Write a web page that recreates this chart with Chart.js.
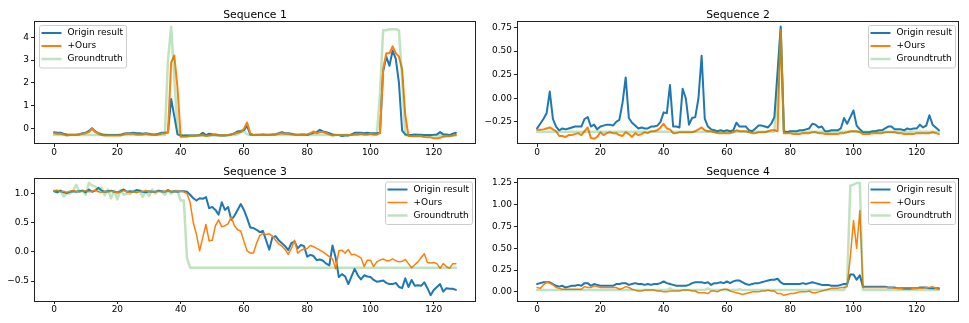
<!DOCTYPE html>
<html>
<head>
<meta charset="utf-8">
<script src="https://cdn.jsdelivr.net/npm/chart.js@4.4.1/dist/chart.umd.min.js"></script>
<style>
  html, body { margin: 0; padding: 0; background: #fff; }
  #figure { position: relative; width: 969px; height: 323px; }
  .panel { position: absolute; }
</style>
</head>
<body>
<div id="figure">
  <canvas id="seq1" class="panel" style="left:0;top:0" width="484" height="161"></canvas>
  <canvas id="seq2" class="panel" style="left:484px;top:0" width="485" height="161"></canvas>
  <canvas id="seq3" class="panel" style="left:0;top:161px" width="484" height="162"></canvas>
  <canvas id="seq4" class="panel" style="left:484px;top:161px" width="485" height="162"></canvas>
</div>
<script>
// sample index along each sequence
const steps = Array.from({ length: 128 }, (_, i) => i);
const xTicks = [0, 20, 40, 60, 80, 100, 120];
const seriesNames = ['Origin result', '+Ours', 'Groundtruth'];

// Sequence 1
const seq1Origin = [
  -0.16, -0.18, -0.18, -0.22, -0.25, -0.26, -0.27, -0.26, -0.24, -0.2, -0.18, -0.1, 0.02, -0.12, -0.2, -0.24,
  -0.27, -0.28, -0.28, -0.28, -0.28, -0.27, -0.22, -0.2, -0.2, -0.18, -0.2, -0.2, -0.22, -0.2, -0.22, -0.25,
  -0.25, -0.22, -0.18, -0.18, -0.15, 1.3, 0.55, -0.25, -0.3, -0.3, -0.3, -0.3, -0.3, -0.3, -0.28, -0.18,
  -0.28, -0.22, -0.24, -0.25, -0.28, -0.3, -0.3, -0.28, -0.25, -0.2, -0.12, -0.1, -0.06, 0.12, -0.25, -0.28,
  -0.27, -0.26, -0.25, -0.26, -0.27, -0.25, -0.24, -0.2, -0.15, -0.2, -0.2, -0.22, -0.25, -0.26, -0.25, -0.25,
  -0.28, -0.22, -0.18, -0.15, -0.05, -0.12, -0.15, -0.2, -0.25, -0.28, -0.28, -0.32, -0.3, -0.3, -0.25, -0.18,
  -0.18, -0.18, -0.2, -0.18, -0.2, -0.2, -0.2, -0.18, 2.5, 3.15, 2.75, 3.42, 3.05, 2.0, -0.08, -0.25,
  -0.28, -0.28, -0.25, -0.27, -0.27, -0.28, -0.28, -0.28, -0.27, -0.25, -0.15, -0.25, -0.25, -0.28, -0.22, -0.18
];
const seq1Ours = [
  -0.2, -0.22, -0.22, -0.25, -0.3, -0.28, -0.28, -0.28, -0.25, -0.22, -0.2, -0.15, 0.0, -0.15, -0.22, -0.28,
  -0.3, -0.3, -0.3, -0.3, -0.3, -0.3, -0.25, -0.22, -0.22, -0.22, -0.25, -0.25, -0.25, -0.22, -0.25, -0.25,
  -0.28, -0.25, -0.22, -0.2, -0.18, 2.9, 3.2, 1.8, -0.35, -0.35, -0.35, -0.32, -0.32, -0.3, -0.3, -0.28,
  -0.32, -0.3, -0.28, -0.28, -0.3, -0.3, -0.28, -0.28, -0.25, -0.22, -0.18, -0.15, 0.0, 0.27, -0.2, -0.28,
  -0.28, -0.28, -0.28, -0.28, -0.28, -0.27, -0.25, -0.22, -0.2, -0.22, -0.22, -0.25, -0.25, -0.28, -0.28, -0.28,
  -0.25, -0.2, -0.12, -0.2, -0.15, -0.15, -0.2, -0.25, -0.3, -0.28, -0.28, -0.28, -0.28, -0.28, -0.28, -0.25,
  -0.25, -0.22, -0.25, -0.25, -0.22, -0.25, -0.25, -0.2, 2.6, 3.3, 3.3, 3.6, 3.3, 3.15, 2.6, 0.6,
  -0.32, -0.33, -0.33, -0.32, -0.33, -0.36, -0.38, -0.38, -0.42, -0.42, -0.4, -0.35, -0.33, -0.33, -0.3, -0.27
];
const seq1Truth = [
  -0.28, -0.28, -0.28, -0.28, -0.28, -0.28, -0.28, -0.28, -0.28, -0.28, -0.28, -0.28, -0.28, -0.28, -0.28, -0.28,
  -0.28, -0.28, -0.28, -0.28, -0.28, -0.28, -0.28, -0.28, -0.28, -0.28, -0.28, -0.28, -0.28, -0.28, -0.28, -0.28,
  -0.28, -0.28, -0.28, -0.28, 3.0, 4.45, 2.2, 0.0, -0.3, -0.3, -0.3, -0.3, -0.3, -0.3, -0.3, -0.3,
  -0.3, -0.3, -0.3, -0.3, -0.3, -0.3, -0.3, -0.3, -0.28, -0.28, -0.25, -0.15, -0.1, -0.25, -0.28, -0.28,
  -0.28, -0.28, -0.28, -0.28, -0.28, -0.28, -0.28, -0.28, -0.28, -0.28, -0.28, -0.28, -0.28, -0.28, -0.28, -0.28,
  -0.28, -0.28, -0.28, -0.28, -0.28, -0.28, -0.28, -0.28, -0.28, -0.28, -0.28, -0.28, -0.28, -0.28, -0.28, -0.28,
  -0.28, -0.28, -0.28, -0.28, -0.28, -0.28, -0.28, 1.5, 4.3, 4.3, 4.35, 4.35, 4.35, 4.3, 2.2, -0.28,
  -0.3, -0.3, -0.3, -0.3, -0.3, -0.3, -0.3, -0.3, -0.3, -0.3, -0.3, -0.3, -0.3, -0.3, -0.3, -0.3
];
const seq1YTicks = [0, 1, 2, 3, 4];

// Sequence 2
const seq2Origin = [
  -0.32, -0.27, -0.22, -0.16, 0.07, -0.22, -0.3, -0.34, -0.32, -0.33, -0.32, -0.31, -0.3, -0.3, -0.3, -0.22,
  -0.2, -0.3, -0.28, -0.33, -0.3, -0.29, -0.28, -0.28, -0.29, -0.25, -0.23, -0.05, 0.22, -0.21, -0.26, -0.29,
  -0.32, -0.31, -0.32, -0.32, -0.3, -0.3, -0.29, -0.25, -0.15, -0.16, 0.14, -0.3, -0.3, -0.31, 0.1, 0.0,
  -0.28, -0.21, -0.2, 0.0, 0.45, -0.22, -0.3, -0.33, -0.34, -0.35, -0.34, -0.35, -0.34, -0.35, -0.34, -0.26,
  -0.3, -0.3, -0.3, -0.34, -0.35, -0.32, -0.29, -0.29, -0.3, -0.31, -0.27, -0.2, 0.28, 0.76, -0.35, -0.36,
  -0.35, -0.35, -0.35, -0.34, -0.34, -0.33, -0.32, -0.27, -0.28, -0.31, -0.3, -0.35, -0.35, -0.34, -0.34, -0.34,
  -0.32, -0.21, -0.27, -0.2, -0.13, -0.29, -0.33, -0.36, -0.36, -0.36, -0.35, -0.35, -0.34, -0.34, -0.32, -0.3,
  -0.3, -0.33, -0.33, -0.33, -0.34, -0.32, -0.33, -0.32, -0.32, -0.28, -0.31, -0.29, -0.18, -0.28, -0.31, -0.34
];
const seq2Ours = [
  -0.335, -0.335, -0.33, -0.32, -0.31, -0.33, -0.35, -0.4, -0.4, -0.41, -0.39, -0.39, -0.38, -0.37, -0.39, -0.35,
  -0.31, -0.42, -0.43, -0.41, -0.36, -0.39, -0.37, -0.36, -0.37, -0.37, -0.39, -0.4, -0.36, -0.38, -0.41, -0.37,
  -0.39, -0.38, -0.36, -0.37, -0.35, -0.35, -0.34, -0.31, -0.27, -0.32, -0.33, -0.37, -0.37, -0.36, -0.36, -0.36,
  -0.36, -0.36, -0.35, -0.33, -0.31, -0.34, -0.35, -0.35, -0.36, -0.37, -0.37, -0.37, -0.37, -0.37, -0.36, -0.34,
  -0.35, -0.35, -0.35, -0.36, -0.37, -0.37, -0.36, -0.36, -0.36, -0.35, -0.34, -0.34, -0.35, 0.72, -0.37, -0.37,
  -0.37, -0.38, -0.38, -0.38, -0.37, -0.37, -0.37, -0.36, -0.36, -0.37, -0.37, -0.38, -0.38, -0.38, -0.38, -0.38,
  -0.37, -0.37, -0.36, -0.35, -0.35, -0.35, -0.36, -0.38, -0.38, -0.38, -0.37, -0.37, -0.37, -0.37, -0.36, -0.36,
  -0.36, -0.36, -0.37, -0.37, -0.38, -0.38, -0.38, -0.38, -0.37, -0.37, -0.37, -0.37, -0.37, -0.36, -0.37, -0.38
];
const seq2Truth = [
  -0.355, -0.355, -0.355, -0.355, -0.355, -0.355, -0.355, -0.355, -0.355, -0.355, -0.355, -0.355, -0.355, -0.355, -0.355, -0.355,
  -0.355, -0.355, -0.355, -0.355, -0.355, -0.355, -0.355, -0.355, -0.355, -0.355, -0.355, -0.355, -0.355, -0.355, -0.355, -0.355,
  -0.355, -0.355, -0.355, -0.355, -0.355, -0.355, -0.355, -0.355, -0.355, -0.355, -0.355, -0.355, -0.355, -0.355, -0.355, -0.355,
  -0.355, -0.355, -0.355, -0.355, -0.355, -0.355, -0.355, -0.355, -0.355, -0.355, -0.355, -0.355, -0.355, -0.355, -0.355, -0.355,
  -0.355, -0.355, -0.355, -0.355, -0.355, -0.355, -0.355, -0.355, -0.355, -0.355, -0.355, -0.355, 0.1, 0.72, -0.355, -0.355,
  -0.355, -0.355, -0.355, -0.355, -0.355, -0.355, -0.355, -0.355, -0.355, -0.355, -0.355, -0.355, -0.355, -0.355, -0.355, -0.355,
  -0.355, -0.355, -0.355, -0.355, -0.355, -0.355, -0.355, -0.355, -0.355, -0.355, -0.355, -0.355, -0.355, -0.355, -0.355, -0.355,
  -0.355, -0.355, -0.355, -0.355, -0.355, -0.355, -0.355, -0.355, -0.355, -0.355, -0.355, -0.355, -0.355, -0.355, -0.355, -0.355
];
const seq2YTicks = [-0.25, 0, 0.25, 0.5, 0.75];

// Sequence 3
const seq3Origin = [
  1.04, 1.02, 1.05, 1.02, 1.01, 1.03, 1.04, 1.03, 1.04, 1.05, 1.02, 1.07, 1.03, 1.05, 1.1, 1.05,
  1.03, 1.04, 1.05, 1.03, 1.02, 1.04, 1.07, 1.03, 1.04, 1.03, 1.06, 1.05, 1.03, 1.02, 1.04, 1.03,
  1.03, 1.05, 1.04, 1.03, 1.06, 1.03, 1.04, 1.03, 1.04, 1.04, 1.03, 0.98, 0.92, 0.88, 0.92, 0.91,
  0.94, 0.75, 0.77, 0.72, 0.64, 0.85, 0.72, 0.77, 0.55, 0.62, 0.72, 0.82, 0.72, 0.58, 0.42, 0.41,
  0.38, 0.34, 0.36, 0.2, 0.04, 0.25, 0.27, 0.2, 0.15, 0.1, 0.03, 0.15, 0.18, 0.06, 0.12, 0.1,
  -0.08, -0.05, -0.07, -0.14, -0.13, -0.15, -0.2, -0.23, 0.11, -0.1, -0.43, -0.38, -0.42, -0.55, -0.42, -0.29,
  -0.4, -0.47, -0.4, -0.42, -0.43, -0.48, -0.51, -0.5, -0.49, -0.53, -0.55, -0.55, -0.53, -0.6, -0.62, -0.45,
  -0.6, -0.48, -0.58, -0.57, -0.58, -0.52, -0.62, -0.74, -0.65, -0.6, -0.55, -0.68, -0.62, -0.63, -0.63, -0.65
];
const seq3Ours = [
  1.04, 1.06, 1.03, 1.04, 1.02, 1.04, 1.05, 1.04, 1.03, 1.04, 1.05, 1.03, 1.04, 1.06, 1.03, 1.02,
  1.04, 1.03, 1.04, 1.03, 1.01, 1.03, 1.05, 1.03, 1.02, 1.03, 1.02, 1.03, 1.04, 1.05, 1.04, 1.03,
  1.03, 1.04, 1.03, 1.04, 1.05, 1.04, 1.03, 1.04, 1.04, 1.03, 1.0, 0.85, 0.5, 0.3, 0.02, 0.25,
  0.47, 0.19, 0.2, 0.45, 0.55, 0.43, 0.45, 0.48, 0.6, 0.45, 0.38, 0.36, 0.18, 0.02, -0.02, -0.02,
  0.15, 0.28, 0.32, 0.3, 0.31, 0.27, 0.2, 0.14, 0.1, 0.04, -0.04, 0.06, 0.2, -0.02, 0.03, 0.05,
  0.06, 0.11, 0.09, 0.06, 0.03, 0.0, -0.04, -0.08, -0.12, -0.29, 0.02, 0.03, -0.02, 0.04, -0.05, -0.04,
  -0.07, -0.1, -0.25, -0.14, -0.14, -0.25, -0.17, -0.14, -0.12, -0.15, -0.15, -0.12, -0.15, -0.17, -0.16, -0.13,
  -0.2, -0.27, -0.22, -0.17, -0.1, -0.03, -0.18, -0.19, -0.18, -0.2, -0.28, -0.2, -0.25, -0.28, -0.2, -0.2
];
const seq3Truth = [
  1.05, 1.03, 1.05, 0.95, 1.0, 1.0, 1.05, 1.15, 1.03, 1.05, 0.98, 1.18, 1.14, 1.12, 1.05, 1.1,
  0.97, 1.07, 0.92, 1.05, 0.9, 1.06, 0.98, 1.0, 0.99, 1.05, 1.02, 1.06, 0.94, 1.05, 0.96, 1.07,
  1.0, 1.05, 1.03, 0.98, 1.05, 1.0, 1.04, 1.05, 0.88, 0.88, -0.1, -0.27, -0.27, -0.27, -0.27, -0.27,
  -0.27, -0.27, -0.27, -0.27, -0.27, -0.27, -0.27, -0.27, -0.27, -0.27, -0.27, -0.27, -0.27, -0.27, -0.27, -0.27,
  -0.27, -0.27, -0.27, -0.27, -0.27, -0.27, -0.27, -0.27, -0.27, -0.27, -0.27, -0.27, -0.27, -0.27, -0.27, -0.27,
  -0.27, -0.27, -0.27, -0.27, -0.27, -0.27, -0.27, -0.27, -0.27, -0.27, -0.27, -0.27, -0.27, -0.27, -0.27, -0.27,
  -0.27, -0.27, -0.27, -0.27, -0.27, -0.27, -0.27, -0.27, -0.27, -0.27, -0.27, -0.27, -0.27, -0.27, -0.27, -0.27,
  -0.27, -0.27, -0.27, -0.27, -0.27, -0.27, -0.27, -0.27, -0.27, -0.27, -0.27, -0.27, -0.27, -0.27, -0.27, -0.27
];
const seq3YTicks = [-0.5, 0, 0.5, 1.0];

// Sequence 4
const seq4Origin = [
  0.09, 0.1, 0.11, 0.11, 0.11, 0.09, 0.07, 0.06, 0.07, 0.05, 0.06, 0.07, 0.07, 0.08, 0.07, 0.1,
  0.1, 0.07, 0.09, 0.08, 0.07, 0.07, 0.07, 0.07, 0.07, 0.09, 0.09, 0.1, 0.1, 0.08, 0.09, 0.1,
  0.09, 0.09, 0.08, 0.09, 0.08, 0.09, 0.09, 0.1, 0.12, 0.1, 0.09, 0.08, 0.07, 0.07, 0.07, 0.07,
  0.08, 0.1, 0.11, 0.11, 0.11, 0.1, 0.11, 0.08, 0.1, 0.1, 0.11, 0.1, 0.12, 0.1, 0.12, 0.13,
  0.13, 0.11, 0.09, 0.08, 0.09, 0.1, 0.1, 0.11, 0.12, 0.13, 0.14, 0.14, 0.15, 0.11, 0.09, 0.09,
  0.09, 0.09, 0.09, 0.09, 0.1, 0.09, 0.1, 0.11, 0.1, 0.09, 0.08, 0.08, 0.08, 0.07, 0.07, 0.07,
  0.08, 0.09, 0.09, 0.2, 0.2, 0.14, 0.19, 0.06, 0.06, 0.06, 0.06, 0.06, 0.06, 0.06, 0.06, 0.05,
  0.05, 0.05, 0.04, 0.04, 0.04, 0.04, 0.04, 0.04, 0.04, 0.05, 0.05, 0.05, 0.04, 0.04, 0.04, 0.04
];
const seq4Ours = [
  0.05, 0.04, 0.08, 0.11, 0.1, 0.08, 0.05, 0.04, 0.03, 0.03, 0.03, 0.03, 0.03, 0.03, 0.03, 0.06,
  0.05, 0.05, 0.07, 0.06, 0.05, 0.05, 0.05, 0.05, 0.05, 0.05, 0.03, 0.04, 0.06, 0.05, 0.03, 0.02,
  0.01, 0.01, 0.02, 0.02, 0.02, 0.02, 0.01, 0.01, 0.0, 0.0, 0.01, 0.01, 0.01, 0.01, 0.02, 0.02,
  0.02, 0.01, 0.01, -0.01, -0.01, -0.01, -0.02, 0.01, 0.01, 0.0, 0.02, 0.03, 0.03, 0.01, 0.0, -0.01,
  -0.02, -0.03, -0.02, -0.01, 0.0, 0.0, 0.0, 0.01, 0.01, 0.02, 0.01, 0.01, -0.02, -0.02, -0.04, -0.03,
  -0.02, -0.02, -0.01, 0.0, 0.0, 0.0, 0.01, -0.01, -0.01, 0.0, 0.01, 0.02, 0.03, 0.04, 0.04, 0.04,
  0.05, 0.05, 0.06, 0.4, 0.82, 0.5, 0.93, 0.05, 0.05, 0.05, 0.05, 0.05, 0.05, 0.05, 0.05, 0.05,
  0.05, 0.04, 0.04, 0.04, 0.03, 0.03, 0.03, 0.04, 0.04, 0.04, 0.04, 0.05, 0.05, 0.06, 0.04, 0.03
];
const seq4Truth = [
  0.02, 0.02, 0.02, 0.02, 0.02, 0.02, 0.02, 0.02, 0.02, 0.02, 0.02, 0.02, 0.02, 0.02, 0.02, 0.02,
  0.02, 0.02, 0.02, 0.02, 0.02, 0.02, 0.02, 0.02, 0.02, 0.02, 0.02, 0.02, 0.02, 0.02, 0.02, 0.02,
  0.02, 0.02, 0.02, 0.02, 0.02, 0.02, 0.02, 0.02, 0.02, 0.02, 0.04, 0.02, 0.02, 0.02, 0.02, 0.02,
  0.02, 0.02, 0.02, 0.02, 0.02, 0.02, 0.04, 0.02, 0.02, 0.02, 0.02, 0.02, 0.02, 0.02, 0.02, 0.02,
  0.03, 0.02, 0.02, 0.02, 0.02, 0.02, 0.02, 0.02, 0.02, 0.02, 0.02, 0.02, 0.02, 0.02, 0.02, 0.02,
  0.02, 0.02, 0.02, 0.02, 0.02, 0.02, 0.02, 0.02, 0.02, 0.02, 0.02, 0.02, 0.02, 0.02, 0.02, 0.02,
  0.02, 0.02, 0.1, 1.22, 1.23, 1.25, 1.25, 0.02, 0.02, 0.02, 0.02, 0.02, 0.02, 0.02, 0.02, 0.02,
  0.02, 0.02, 0.02, 0.02, 0.02, 0.02, 0.02, 0.02, 0.02, 0.02, 0.02, 0.02, 0.02, 0.02, 0.02, 0.02
];
const seq4YTicks = [0, 0.25, 0.5, 0.75, 1.0, 1.25];

const BLUE = '#1f77b4';
const ORANGE = '#ff7f0e';
const GREEN = 'rgba(44, 160, 44, 0.3)';
const FONT = '"DejaVu Sans", sans-serif';

// frame, title and legend drawn the matplotlib way
const mplDecor = {
  id: 'mplDecor',
  afterDraw(chart, args, opts) {
    const { ctx, chartArea: a } = chart;
    ctx.save();

    ctx.strokeStyle = '#222';
    ctx.lineWidth = 1;
    ctx.strokeRect(Math.round(a.left) + 0.5, Math.round(a.top) + 0.5,
      Math.round(a.right - a.left) - 1, Math.round(a.bottom - a.top) - 1);

    ctx.fillStyle = '#000';
    ctx.font = '10.8px ' + FONT;
    ctx.textAlign = 'center';
    ctx.textBaseline = 'alphabetic';
    ctx.fillText(opts.title, (a.left + a.right) / 2, a.top - 3);

    // legend box
    const w = 87, h = 42.5;
    const x = opts.legendSide === 'left' ? a.left + 5 : a.right - 4 - w;
    const y = a.top + 4;
    ctx.fillStyle = 'rgba(255,255,255,0.8)';
    ctx.strokeStyle = '#cccccc';
    ctx.beginPath();
    ctx.roundRect(x + 0.5, y + 0.5, w, h, 2);
    ctx.fill();
    ctx.stroke();

    ctx.font = '9px ' + FONT;
    ctx.textAlign = 'left';
    ctx.textBaseline = 'middle';
    chart.data.datasets.forEach((ds, i) => {
      const ry = y + 8 + 13 * i;
      ctx.strokeStyle = ds.borderColor;
      ctx.lineWidth = ds.borderWidth;
      ctx.beginPath();
      ctx.moveTo(x + 2.5, ry);
      ctx.lineTo(x + 22.5, ry);
      ctx.stroke();
      ctx.fillStyle = '#000';
      ctx.fillText(ds.label, x + 28.5, ry);
    });
    ctx.restore();
  }
};

function formatTick(v, digits) {
  const s = Math.abs(v).toFixed(digits);
  return v < 0 ? '\u2212' + s : s;
}

function drawSequence(id, p) {
  const canvas = document.getElementById(id);
  const makeSet = (label, data, color, width, order) => ({
    label, data, borderColor: color, borderWidth: width, order,
    pointRadius: 0, fill: false, tension: 0,
    borderJoinStyle: 'round', borderCapStyle: 'round'
  });
  new Chart(canvas, {
    type: 'line',
    data: {
      labels: steps,
      datasets: [
        makeSet(seriesNames[0], p.origin, BLUE, 2, 2),
        makeSet(seriesNames[1], p.ours, ORANGE, p.oursWidth, 1),
        makeSet(seriesNames[2], p.truth, GREEN, 2.5, 0)
      ]
    },
    options: {
      responsive: false,
      animation: false,
      devicePixelRatio: 1,
      events: [],
      layout: { padding: { left: 0, top: p.padTop, right: p.padRight, bottom: 0 } },
      scales: {
        x: {
          type: 'linear',
          min: -6.35,
          max: 133.35,
          afterBuildTicks: s => { s.ticks = xTicks.map(v => ({ value: v })); },
          afterFit: s => { s.height = p.xHeight; },
          ticks: { color: '#000', font: { family: FONT, size: 9 }, padding: 0, maxRotation: 0,
                   callback: v => String(v) },
          grid: { drawOnChartArea: false, drawTicks: true, tickLength: 3, color: '#222' },
          border: { display: false }
        },
        y: {
          min: p.yMin,
          max: p.yMax,
          afterBuildTicks: s => { s.ticks = p.yTicks.map(v => ({ value: v })); },
          afterFit: s => { s.width = p.yWidth; },
          ticks: { color: '#000', font: { family: FONT, size: 9 }, padding: 2,
                   callback: v => formatTick(v, p.digits) },
          grid: { drawOnChartArea: false, drawTicks: true, tickLength: 3, color: '#222' },
          border: { display: false }
        }
      },
      plugins: {
        legend: { display: false },
        tooltip: { enabled: false },
        mplDecor: { title: p.title, legendSide: p.legendSide }
      }
    },
    plugins: [mplDecor]
  });
}

drawSequence('seq1', {
  title: 'Sequence 1', origin: seq1Origin, ours: seq1Ours, truth: seq1Truth, oursWidth: 2,
  yMin: -0.67, yMax: 4.71, yTicks: seq1YTicks, digits: 0, legendSide: 'left',
  padTop: 21, padRight: 8, yWidth: 34, xHeight: 17
});
drawSequence('seq2', {
  title: 'Sequence 2', origin: seq2Origin, ours: seq2Ours, truth: seq2Truth, oursWidth: 2,
  yMin: -0.485, yMax: 0.818, yTicks: seq2YTicks, digits: 2, legendSide: 'right',
  padTop: 21, padRight: 10, yWidth: 33, xHeight: 17
});
drawSequence('seq3', {
  title: 'Sequence 3', origin: seq3Origin, ours: seq3Ours, truth: seq3Truth, oursWidth: 1.5,
  yMin: -0.84, yMax: 1.275, yTicks: seq3YTicks, digits: 1, legendSide: 'right',
  padTop: 16.5, padRight: 8, yWidth: 34, xHeight: 22
});
drawSequence('seq4', {
  title: 'Sequence 4', origin: seq4Origin, ours: seq4Ours, truth: seq4Truth, oursWidth: 1.5,
  yMin: -0.105, yMax: 1.313, yTicks: seq4YTicks, digits: 2, legendSide: 'right',
  padTop: 16.5, padRight: 10, yWidth: 33, xHeight: 22
});
</script>
</body>
</html>
